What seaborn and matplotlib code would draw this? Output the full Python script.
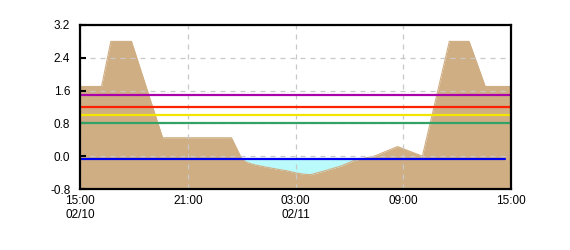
import matplotlib
matplotlib.use("Agg")
import matplotlib.pyplot as plt
import matplotlib.dates as mdates
import seaborn as sns
import pandas as pd
import numpy as np

# ---- data ----
times = ["2024-02-10 15:00", "2024-02-10 16:12", "2024-02-10 16:43", "2024-02-10 17:52",
         "2024-02-10 19:36", "2024-02-10 23:26", "2024-02-11 00:01", "2024-02-11 00:16",
         "2024-02-11 00:43", "2024-02-11 01:17", "2024-02-11 02:01", "2024-02-11 02:34",
         "2024-02-11 03:02", "2024-02-11 03:30", "2024-02-11 03:50", "2024-02-11 04:36",
         "2024-02-11 05:32", "2024-02-11 06:17", "2024-02-11 06:50", "2024-02-11 07:23",
         "2024-02-11 08:41", "2024-02-11 10:04", "2024-02-11 11:34", "2024-02-11 12:40",
         "2024-02-11 13:34", "2024-02-11 15:00"]
level = [1.70, 1.70, 2.80, 2.80, 0.45, 0.45, -0.07, -0.15,
         -0.21, -0.26, -0.32, -0.36, -0.41, -0.44, -0.45, -0.36,
         -0.24, -0.10, -0.05, 0.00, 0.235, 0.00, 2.80, 2.80,
         1.70, 1.70]

threshold_values = [1.50, 1.20, 1.00, 0.80]
threshold_colors = ["#AA00AA", "#FF2200", "#F2E600", "#33A266"]
low_value = -0.07
low_end = "2024-02-11 14:40"

x_ticks = ["2024-02-10 15:00", "2024-02-10 21:00", "2024-02-11 03:00",
           "2024-02-11 09:00", "2024-02-11 15:00"]
x_labels = ["15:00\n02/10", "21:00", "03:00\n02/11", "09:00", "15:00"]
y_ticks = [-0.8, 0.0, 0.8, 1.6, 2.4, 3.2]
y_labels = ["-0.8", "0.0", "0.8", "1.6", "2.4", "3.2"]

# ---- plot ----
sns.set_style("white")
plt.rcParams["font.family"] = ["Liberation Sans", "DejaVu Sans"]

df = pd.DataFrame({"t": pd.to_datetime(times), "v": level})
start = df["t"].iloc[0]
end = df["t"].iloc[-1]

fig = plt.figure(figsize=(5.7, 2.5), dpi=100)
ax = fig.add_axes([80/570, 1-189/250, (511-80)/570, (189-25)/250])

# fine resample for proper fill crossing
tt = pd.date_range(start, end, freq="1min")
tn = mdates.date2num(tt)
vv = np.interp(tn, mdates.date2num(df["t"]), df["v"])

ax.fill_between(tt, -0.8, vv, color="#CFAE83", lw=0, zorder=1)
ax.fill_between(tt, vv, low_value, where=vv < low_value, color="#BBFAFA", lw=0, zorder=1)
sns.lineplot(data=df, x="t", y="v", ax=ax, color="#CFAE83", lw=0.8, zorder=1)

for val, col in zip(threshold_values, threshold_colors):
    hdf = pd.DataFrame({"t": [start, end], "v": [val, val]})
    sns.lineplot(data=hdf, x="t", y="v", ax=ax, color=col, lw=1.6, zorder=4)
ldf = pd.DataFrame({"t": [start, pd.Timestamp(low_end)], "v": [low_value, low_value]})
sns.lineplot(data=ldf, x="t", y="v", ax=ax, color="#0000F0", lw=1.6, zorder=4)

ax.set_xlim(start, end)
ax.set_ylim(-0.8, 3.2)
ax.set_xticks(pd.to_datetime(x_ticks))
ax.set_xticklabels(x_labels, linespacing=1.3)
ax.set_yticks(y_ticks)
ax.set_yticklabels(y_labels)
ax.set_xlabel("")
ax.set_ylabel("")

ax.grid(True, color="#C8C8C8", ls=(0, (4, 4)), lw=0.9, zorder=3)
ax.set_axisbelow(False)
for l in ax.get_xgridlines() + ax.get_ygridlines():
    l.set_zorder(3)

ax.tick_params(axis="y", direction="in", length=4, width=1.5, color="black",
               labelsize=8.5, labelcolor="black", pad=7, left=True)
ax.tick_params(axis="x", length=0, labelsize=8.5, labelcolor="black", pad=4)
for lab in ax.get_xticklabels():
    lab.set_horizontalalignment("center")
for s in ax.spines.values():
    s.set_color("black")
    s.set_linewidth(1.6)
    s.set_zorder(6)

fig.savefig("out.png", dpi=100)
